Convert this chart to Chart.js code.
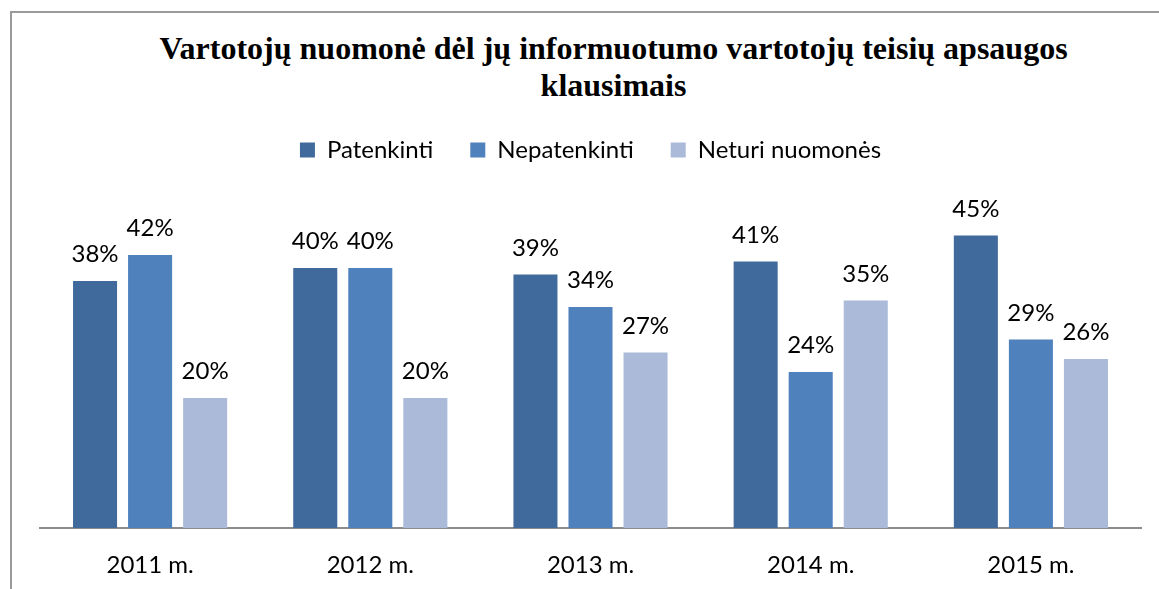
<!DOCTYPE html>
<html lang="lt">
<head>
  <meta charset="UTF-8" />
  <title>Vartotojų nuomonė</title>
  <script src="https://cdn.jsdelivr.net/npm/chart.js"></script>
  <style>
    body {
      margin: 0;
      width: 1159px;
      height: 589px;
      overflow: hidden;
      background: #fff;
      position: relative;
    }

    #frame {
      position: absolute;
      left: 10px;
      top: 11px;
      width: 1160px;
      height: 600px;
      border-left: 2px solid #9a9a9a;
      border-top: 2px solid #9a9a9a;
    }

    #title {
      position: absolute;
      left: 34px;
      top: 30px;
      width: 1159px;
      text-align: center;
      font-family: "Liberation Serif", "Times New Roman", serif;
      font-weight: bold;
      font-size: 32px;
      line-height: 37px;
      color: #000;
    }

    #wrap {
      position: absolute;
      left: 0;
      top: 0;
      width: 1159px;
      height: 589px;
    }
  </style>
</head>
<body>
  <div id="frame"></div>
  <div id="title">Vartotojų nuomonė dėl jų informuotumo vartotojų teisių apsaugos<br>klausimais</div>
  <div id="wrap"><canvas id="chart"></canvas></div>

  <script>
    const years = ['2011 m.', '2012 m.', '2013 m.', '2014 m.', '2015 m.'];
    const satisfied = [38, 40, 39, 41, 45];
    const unsatisfied = [42, 40, 34, 24, 29];
    const noOpinion = [20, 20, 27, 35, 26];

    const FONT = 'Lato, "Liberation Sans", sans-serif';

    // percentage labels over each bar
    const valueLabels = {
      id: 'valueLabels',
      afterDatasetsDraw(chart) {
        const ctx = chart.ctx;
        ctx.save();
        ctx.font = '24px ' + FONT;
        ctx.fillStyle = '#000';
        ctx.textAlign = 'center';
        ctx.textBaseline = 'alphabetic';
        chart.data.datasets.forEach((ds, i) => {
          chart.getDatasetMeta(i).data.forEach((bar, j) => {
            ctx.fillText(ds.data[j] + '%', bar.x, bar.y - 19);
          });
        });
        ctx.restore();
      }
    };

    // extra room between legend and plot
    const legendGap = {
      id: 'legendGap',
      beforeInit(chart) {
        const fit = chart.legend.fit;
        chart.legend.fit = function () {
          fit.call(this);
          this.height += 31;
        };
      }
    };

    new Chart(document.getElementById('chart'), {
      type: 'bar',
      data: {
        labels: years,
        datasets: [
          { label: 'Patenkinti', data: satisfied, backgroundColor: '#416a9c' },
          { label: 'Nepatenkinti', data: unsatisfied, backgroundColor: '#4f81bd' },
          { label: 'Neturi nuomonės', data: noOpinion, backgroundColor: '#aabad8' }
        ]
      },
      options: {
        responsive: true,
        maintainAspectRatio: false,
        animation: false,
        categoryPercentage: 0.75,
        barPercentage: 0.8,
        layout: {
          padding: { left: 40, right: 18, top: 101, bottom: 0 }
        },
        scales: {
          x: {
            grid: { display: false, drawTicks: false },
            border: { display: true, color: '#8c8c8c', width: 2 },
            ticks: {
              color: '#000',
              padding: 23,
              font: { family: FONT, size: 24 }
            },
            afterFit(scale) {
              scale.height = 61;
            }
          },
          y: {
            display: false,
            min: 0,
            max: 50
          }
        },
        plugins: {
          legend: {
            position: 'top',
            labels: {
              color: '#000',
              font: { family: FONT, size: 24 },
              boxWidth: 15,
              boxHeight: 15,
              padding: 37
            }
          },
          tooltip: { enabled: false }
        }
      },
      plugins: [valueLabels, legendGap]
    });
  </script>
</body>
</html>
